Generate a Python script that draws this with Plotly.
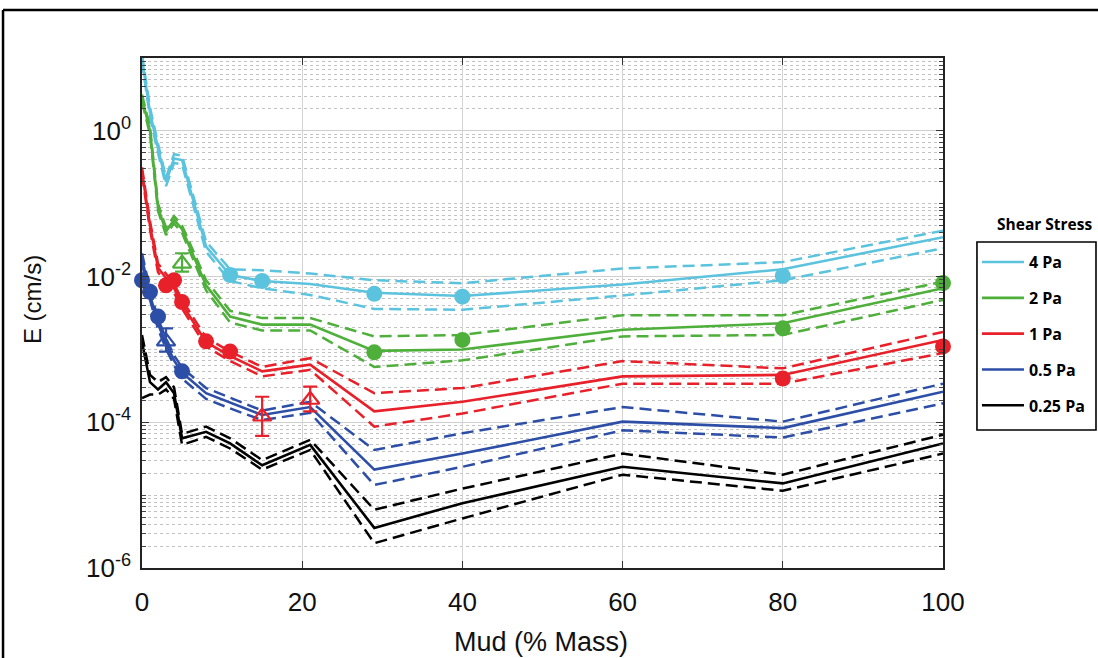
import plotly.graph_objects as go

# ---------------- data ----------------
mud_model = [0, 1, 2, 3, 4, 5, 8, 11, 15, 21, 29, 40, 60, 80, 100]
stress_labels = ["4 Pa", "2 Pa", "1 Pa", "0.5 Pa", "0.25 Pa"]

e4_mid = [10, 1.78, 0.575, 0.200, 0.417, 0.398, 0.0257, 0.0105, 0.0087, 0.0079, 0.0060, 0.0054, 0.0078, 0.0126, 0.0347]
e4_hi = [11.2, 2.09, 0.661, 0.229, 0.479, 0.457, 0.0302, 0.0126, 0.0122, 0.0110, 0.0089, 0.0081, 0.0129, 0.0158, 0.0427]
e4_lo = [8.91, 1.51, 0.501, 0.174, 0.363, 0.347, 0.0219, 0.0087, 0.0069, 0.0056, 0.0036, 0.0035, 0.0055, 0.0089, 0.0245]

e2_mid = [2.82, 1.0, 0.0891, 0.0417, 0.0603, 0.0447, 0.00759, 0.00282, 0.00219, 0.00219, 0.000955, 0.001, 0.00186, 0.00229, 0.00692]
e2_hi = [3.16, 1.12, 0.1, 0.0468, 0.0676, 0.0501, 0.00891, 0.00339, 0.00269, 0.00269, 0.00151, 0.00158, 0.00295, 0.00295, 0.00851]
e2_lo = [2.51, 0.891, 0.0794, 0.0372, 0.0537, 0.0398, 0.00646, 0.00234, 0.00182, 0.00182, 0.000575, 0.000708, 0.00151, 0.00158, 0.00479]

e1_mid = [0.282, 0.0501, 0.0132, 0.00955, 0.00692, 0.00417, 0.00126, 0.000813, 0.000501, 0.000617, 0.000141, 0.000191, 0.000427, 0.000447, 0.00135]
e1_hi = [0.316, 0.0575, 0.0151, 0.011, 0.00794, 0.00479, 0.00145, 0.000933, 0.000575, 0.000759, 0.000251, 0.000295, 0.000692, 0.00055, 0.00174]
e1_lo = [0.251, 0.0437, 0.0115, 0.00832, 0.00603, 0.00363, 0.0011, 0.000692, 0.000427, 0.000525, 8.71e-5, 0.000132, 0.000339, 0.000339, 0.000891]

e05_mid = [0.0178, 0.00562, 0.00224, 0.0012, 0.000708, 0.000479, 0.000251, 0.000186, 0.000126, 0.000162, 2.24e-5, 3.72e-5, 0.000102, 8.32e-5, 0.000263]
e05_hi = [0.0209, 0.00661, 0.00263, 0.00141, 0.000832, 0.000562, 0.000295, 0.000219, 0.000145, 0.000191, 4.17e-5, 7.08e-5, 0.000162, 0.000102, 0.000339]
e05_lo = [0.0151, 0.00479, 0.00191, 0.00102, 0.000603, 0.000398, 0.000209, 0.000155, 0.000107, 0.000135, 1.38e-5, 2.45e-5, 7.76e-5, 6.17e-5, 0.000182]

e025_mid = [0.00126, 0.000355, 0.000282, 0.000355, 0.000251, 6.03e-5, 7.41e-5, 5.13e-5, 2.57e-5, 4.9e-5, 3.55e-6, 7.76e-6, 2.45e-5, 1.45e-5, 5.13e-5]
e025_hi = [0.00158, 0.000447, 0.000355, 0.000417, 0.000302, 6.92e-5, 8.71e-5, 6.03e-5, 3.02e-5, 5.75e-5, 6.31e-6, 1.23e-5, 3.72e-5, 1.91e-5, 6.76e-5]
e025_lo = [0.000214, 0.00024, 0.00024, 0.000282, 0.000209, 4.9e-5, 6.31e-5, 4.37e-5, 2.24e-5, 4.17e-5, 2.19e-6, 4.79e-6, 1.91e-5, 1.15e-5, 3.72e-5]

# measured points (circles)
c4_x = [11, 15, 29, 40, 80]
c4_y = [0.0105, 0.0087, 0.0058, 0.0053, 0.0102]
c2_x = [29, 40, 80, 100]
c2_y = [0.000912, 0.00135, 0.00195, 0.00813]
c1_x = [3, 4, 5, 8, 11, 80, 100]
c1_y = [0.00759, 0.00891, 0.00447, 0.00129, 0.000933, 0.000398, 0.0011]
c05_x = [0, 1, 2, 5]
c05_y = [0.00891, 0.00617, 0.00282, 0.000501]

# measured points with error bars (triangles)
t2_x = [5]
t2_y = [0.0151]
t2_up = [0.0058]
t2_dn = [0.0034]
t1_x = [15, 21]
t1_y = [0.00012, 0.000204]
t1_up = [0.000104, 0.000105]
t1_dn = [0.000055, 0.000063]
t05_x = [3]
t05_y = [0.00129]
t05_up = [0.00066]
t05_dn = [0.00036]

y_tick_vals = [1e-6, 1e-4, 1e-2, 1]
y_tick_text = ["10<sup>-6</sup>", "10<sup>-4</sup>", "10<sup>-2</sup>", "10<sup>0</sup>"]
x_tick_vals = [0, 20, 40, 60, 80, 100]

colors = ["#5BC3DE", "#4FAF3B", "#E8202A", "#2D4EA6", "#000000"]

series = [
    (e4_mid, e4_hi, e4_lo),
    (e2_mid, e2_hi, e2_lo),
    (e1_mid, e1_hi, e1_lo),
    (e05_mid, e05_hi, e05_lo),
    (e025_mid, e025_hi, e025_lo),
]

fig = go.Figure()

for i, (mid, hi, lo) in enumerate(series):
    col = colors[i]
    grp = stress_labels[i]
    for band in (hi, lo):
        fig.add_trace(go.Scatter(x=mud_model, y=band, mode="lines",
                                 line=dict(color=col, width=2.5, dash="12px,6px"),
                                 showlegend=False, legendgroup=grp, hoverinfo="skip"))
    fig.add_trace(go.Scatter(x=mud_model, y=mid, mode="lines", name=grp,
                             line=dict(color=col, width=2.6),
                             legendgroup=grp, showlegend=True))

circle_sets = [(c4_x, c4_y, 0), (c2_x, c2_y, 1), (c1_x, c1_y, 2), (c05_x, c05_y, 3)]
for cx, cy, ci in circle_sets:
    fig.add_trace(go.Scatter(x=cx, y=cy, mode="markers", showlegend=False,
                             legendgroup=stress_labels[ci],
                             marker=dict(symbol="circle", size=16, color=colors[ci]),
                             cliponaxis=False))

tri_sets = [(t2_x, t2_y, t2_up, t2_dn, 1), (t1_x, t1_y, t1_up, t1_dn, 2), (t05_x, t05_y, t05_up, t05_dn, 3)]
for tx, ty, tu, td, ci in tri_sets:
    fig.add_trace(go.Scatter(x=tx, y=ty, mode="markers", showlegend=False,
                             legendgroup=stress_labels[ci],
                             marker=dict(symbol="triangle-up-open", size=16, color=colors[ci],
                                         line=dict(width=2.2, color=colors[ci])),
                             error_y=dict(type="data", array=tu, arrayminus=td, symmetric=False,
                                          color=colors[ci], thickness=2.2, width=7),
                             cliponaxis=False))

# minor grid positions: all non-labelled decades and the 2..9 subdivisions
y_minor = [k * 10.0 ** d for d in range(-6, 1) for k in range(2, 10)] + [1e-5, 1e-3, 1e-1]

fig.update_xaxes(range=[0, 100], tickvals=x_tick_vals,
                 showgrid=True, gridcolor="#d4d4d4", gridwidth=1,
                 ticks="inside", ticklen=7, tickcolor="#333", mirror="ticks",
                 showline=True, linecolor="#222", linewidth=1.5,
                 zeroline=False, ticklabelstandoff=10,
                 tickfont=dict(family="Liberation Sans, Arial", size=26, color="#111"))
fig.update_yaxes(type="log", range=[-6, 1], tickmode="array", tickvals=y_tick_vals, ticktext=y_tick_text,
                 showgrid=True, gridcolor="#cfcfcf", gridwidth=1,
                 ticks="inside", ticklen=7, tickcolor="#333", mirror="ticks",
                 showline=True, linecolor="#222", linewidth=1.5,
                 zeroline=False, ticklabelstandoff=4,
                 minor=dict(tickmode="array", tickvals=y_minor, showgrid=True, gridcolor="#c2c2c2",
                            griddash="dot", gridwidth=1, ticks="inside", ticklen=4, tickcolor="#444"),
                 tickfont=dict(family="Liberation Sans, Arial", size=26, color="#111"))

fig.update_layout(
    width=1098, height=658,
    margin=dict(l=142, r=155, t=58, b=90, autoexpand=False),
    paper_bgcolor="white", plot_bgcolor="white",
    showlegend=True,
    legend=dict(x=1.0424, y=0.633, xanchor="left", yanchor="top",
                borderwidth=0, bgcolor="rgba(0,0,0,0)",
                font=dict(family="Open Sans", size=16, color="#000", weight="bold"),
                tracegroupgap=12, itemwidth=42),
    annotations=[
        dict(text="<b>Shear Stress</b>", x=1.1273, y=0.6745, xref="paper", yref="paper",
             xanchor="center", yanchor="middle",
             showarrow=False, font=dict(family="Open Sans", size=15.5, color="#000")),
        dict(text="E (cm/s)", x=-0.136, y=0.5255, xref="paper", yref="paper",
             xanchor="center", yanchor="middle",
             showarrow=False, textangle=-90,
             font=dict(family="Liberation Sans, Arial", size=24, color="#111")),
        dict(text="Mud (% Mass)", x=0.498, y=-0.145, xref="paper", yref="paper",
             xanchor="center", yanchor="middle",
             showarrow=False, font=dict(family="Liberation Sans, Arial", size=27, color="#111")),
    ],
    shapes=[
        dict(type="line", xref="paper", yref="paper", x0=-0.1735, x1=1.2, y0=1.0941, y1=1.0941,
             line=dict(color="#000", width=2.5)),
        dict(type="line", xref="paper", yref="paper", x0=-0.1735, x1=-0.1735, y0=-0.2, y1=1.0941,
             line=dict(color="#000", width=2.5)),
        dict(type="rect", xref="paper", yref="paper", x0=1.0424, x1=1.191, y0=0.2706, y1=0.6392,
             line=dict(color="#000", width=1.6), fillcolor="rgba(0,0,0,0)"),
    ],
)

fig.write_html("out.html",
               config={"displayModeBar": False},
               post_script="document.body.style.margin='0px';document.body.style.overflow='hidden';")
